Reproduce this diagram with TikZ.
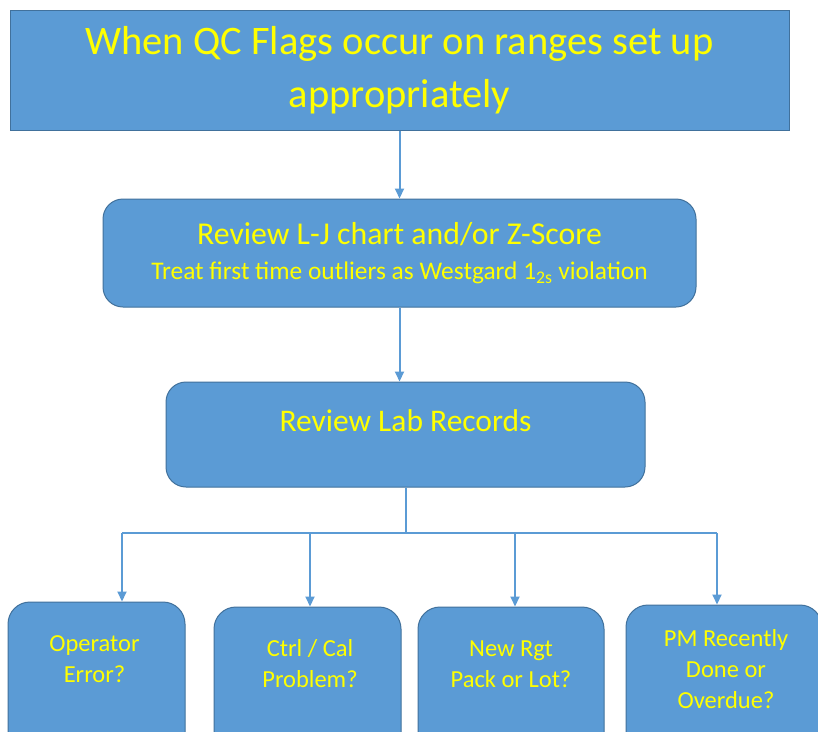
\documentclass[tikz,border=0pt]{standalone}
\usepackage{fontspec}
\setmainfont{Carlito}
\usetikzlibrary{arrows.meta,positioning}
\definecolor{boxblue}{HTML}{5B9BD5}
\definecolor{boxline}{HTML}{41719C}
\definecolor{flagyellow}{HTML}{FFFF00}
\tikzstyle{block}=[
	draw=boxline,
	fill=boxblue,
	line width=1pt,
	text=flagyellow,
	align=center,
	inner sep=0pt
]
\tikzstyle{rblock}=[block,rounded corners=20pt]
\tikzstyle{qbox}=[block,rounded corners=22pt,minimum height=170pt]
\tikzstyle{caption}=[text=flagyellow,align=center,inner sep=0pt,font=\fontsize{24.5}{31}\selectfont]
\tikzstyle{bus} = [draw=boxblue,line width=2pt]
\tikzstyle{link} = [bus,-{Triangle[length=10pt,width=9pt]}]

\begin{document}
\begin{tikzpicture}[x=1pt,y=-1pt]

	\clip (0,0) rectangle (818,731);
	\fill[white] (0,0) rectangle (818,731);

	\node[block,minimum width=779pt,minimum height=120pt,font=\fontsize{40.5}{53}\selectfont]
		(flags) at (399.5,70) {When QC Flags occur on ranges set up\\appropriately};
	\node[rblock,minimum width=593pt,minimum height=108pt,font=\fontsize{25.4}{35}\selectfont]
		(ljchart) at (399.5,253) {{\fontsize{31.8}{35}\selectfont Review L-J chart and/or Z-Score}\\
		Treat first time outliers as Westgard 1\textsubscript{2s} violation};
	\node[rblock,minimum width=479pt,minimum height=105pt,font=\fontsize{31.5}{37}\selectfont,
		text height=22pt,text depth=28pt]
		(labrec) at (405.5,434.5) {Review Lab Records};

	% question boxes, cut by the lower edge
	\node[qbox,minimum width=177pt] (operr) at (96.5,687) {};
	\node[qbox,minimum width=187pt] (ctrlcal) at (307.5,692) {};
	\node[qbox,minimum width=186pt] (newrgt) at (511,692) {};
	\node[qbox,minimum width=196pt] (pmdone) at (724,690) {};

	\node[caption] (operrtxt) at (94.5,659) {Operator\\Error?};
	\node[caption] (ctrlcaltxt) at (310,663.5) {Ctrl / Cal\\Problem?};
	\node[caption] (newrgttxt) at (511,664) {New Rgt\\Pack or Lot?};
	\node[caption] (pmdonetxt) at (726,669.5) {PM Recently\\Done or\\Overdue?};

	\coordinate (fork) at (406,533);
	\coordinate (busA) at (122,533);
	\coordinate (busB) at (310,533);
	\coordinate (busC) at (515,533);
	\coordinate (busD) at (717,533);

	\path
	(flags) edge[link] (ljchart)
	(ljchart.south) edge[link] (ljchart.south |- labrec.north);

	\draw[bus] (fork |- labrec.south) -- (fork);
	\draw[bus] (busA) -- (busD);

	\path
	(busA) edge[link] (busA |- operr.north)
	(busB) edge[link] (busB |- ctrlcal.north)
	(busC) edge[link] (busC |- newrgt.north)
	(busD) edge[link] (busD |- pmdone.north);

\end{tikzpicture}
\end{document}
